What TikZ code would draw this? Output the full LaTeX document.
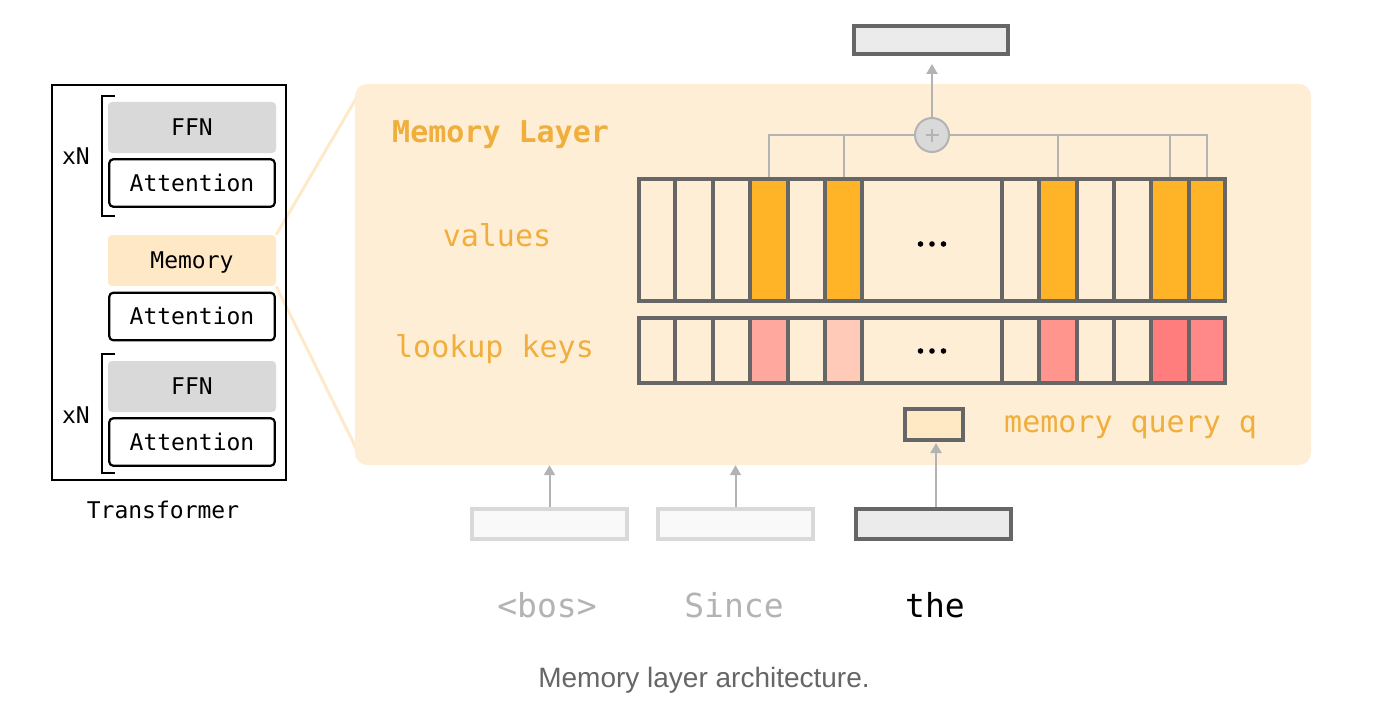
\documentclass[tikz,border=0pt]{standalone}
\usepackage{fontspec}
\setmainfont{Liberation Sans}
\newfontfamily\monofont{DejaVu Sans Mono}
\usetikzlibrary{arrows.meta,backgrounds}
\definecolor{panelbg}{HTML}{FFEED6}
\definecolor{membg}{HTML}{FFE8C6}
\definecolor{zoomline}{HTML}{FEEACA}
\definecolor{ffngray}{HTML}{D9D9D9}
\definecolor{orangetxt}{HTML}{F0AE3C}
\definecolor{vorange}{HTML}{FFB326}
\definecolor{kA}{HTML}{FFA89E}
\definecolor{kB}{HTML}{FFCAB8}
\definecolor{kC}{HTML}{FF958D}
\definecolor{kD}{HTML}{FF7D7D}
\definecolor{kE}{HTML}{FF8888}
\definecolor{cellline}{HTML}{666666}
\definecolor{busgray}{HTML}{B3B3B3}
\definecolor{plusfill}{HTML}{D9D9D9}
\definecolor{outfill}{HTML}{EBEBEB}
\definecolor{tokfill}{HTML}{F9F9F9}
\definecolor{tokline}{HTML}{D9D9D9}
\definecolor{qfill}{HTML}{FFE9C4}
\definecolor{captxt}{HTML}{666666}
\tikzset{
  leftfont/.style={font=\monofont\fontsize{23}{27}\selectfont, text height=16.8pt, text depth=0pt},
  attbox/.style={leftfont, draw=black, line width=2.2pt, rounded corners=4pt, fill=white,
    minimum width=165.5pt, minimum height=47.5pt, inner sep=0pt},
  ffnbox/.style={leftfont, fill=ffngray, rounded corners=4pt,
    minimum width=168pt, minimum height=51pt, inner sep=0pt},
  membox/.style={leftfont, fill=membg, rounded corners=4pt,
    minimum width=168pt, minimum height=51pt, inner sep=0pt},
  brack/.style={draw=black, line width=2pt},
  lbl/.style={font=\monofont\fontsize{30}{34}\selectfont, text=orangetxt, inner sep=0pt,
    text height=21.9pt, text depth=0pt},
  cell/.style={draw=cellline, line width=4pt, inner sep=0pt, outer sep=0pt},
  bus/.style={draw=busgray, line width=2pt},
  arr/.style={draw=busgray, line width=2pt, -{Triangle[length=10pt,width=11pt]}},
  tokbox/.style={line width=4pt, minimum width=155pt, minimum height=30pt, inner sep=0pt},
  toktxt/.style={font=\monofont\fontsize{33}{38}\selectfont, inner sep=0pt, text height=24pt, text depth=0pt},
}
\begin{document}
\begin{tikzpicture}[x=1pt,y=-1pt]
\useasboundingbox (0,0) rectangle (1377,717);

% ---------- left: Transformer ----------
\node[draw=black, line width=2.5pt, minimum width=234pt, minimum height=395pt, inner sep=0pt] (tbox) at (169,282.5) {};
\node[ffnbox] (ffn1) at (192,127.5) {FFN};
\node[attbox] (att1) at (192,183) {Attention};
\node[membox] (mem) at (192,260.5) {Memory};
\node[attbox] (att2) at (192,316.5) {Attention};
\node[ffnbox] (ffn2) at (192,386.5) {FFN};
\node[attbox] (att3) at (192,442) {Attention};
\draw[brack] (115,96) -- (102,96) -- (102,216) -- (115,216);
\draw[brack] (115,354) -- (102,354) -- (102,473) -- (115,473);
\node[leftfont, inner sep=0pt] (xn1) at (76,156.5) {xN};
\node[leftfont, inner sep=0pt] (xn2) at (76,415) {xN};
\node[leftfont, inner sep=0pt] (tlabel) at (163,510) {Transformer};

% ---------- zoom lines ----------
\coordinate (z1) at (357,97);
\coordinate (z2) at (357,450);
\begin{scope}[on background layer]
\draw[zoomline, line width=3pt] (mem.north east) -- (z1);
\draw[zoomline, line width=3pt] (mem.south east) -- (z2);
\end{scope}

% ---------- memory layer panel ----------
\node[fill=panelbg, rounded corners=12pt, minimum width=956pt, minimum height=381pt, inner sep=0pt] (panel) at (833,274.5) {};
\node[lbl, font=\monofont\bfseries\fontsize{30}{34}\selectfont, anchor=west] (mltitle) at (392,131.3) {Memory Layer};
\node[lbl] (vallbl) at (497,235.7) {values};
\node[lbl] (keylbl) at (494.5,346.3) {lookup keys};
\node[lbl, anchor=west] (qlbl) at (1004,422) {memory query q};

% output box and plus
\node[draw=cellline, fill=outfill, line width=4pt, minimum width=154pt, minimum height=28pt, inner sep=0pt] (out) at (931,40) {};
\node[circle, draw=busgray, fill=plusfill, line width=2pt, minimum size=34pt, inner sep=0pt,
  path picture={
    \draw[busgray, line width=1.6pt] ([xshift=-6.5pt]path picture bounding box.center) -- ([xshift=6.5pt]path picture bounding box.center);
    \draw[busgray, line width=1.6pt] ([yshift=-6.5pt]path picture bounding box.center) -- ([yshift=6.5pt]path picture bounding box.center);
  }] (plus) at (932,135) {};
\draw[arr, shorten >=8pt] (plus.north) -- (plus.north |- out.south);

% values row
\foreach \i/\a/\b/\c in {1/639/675/panelbg, 2/675/713/panelbg, 3/713/750/panelbg, 4/750/788/vorange,
  5/788/825/panelbg, 6/825/862/vorange, 7/862/1002/panelbg, 8/1002/1039/panelbg, 9/1039/1077/vorange,
  10/1077/1114/panelbg, 11/1114/1151/panelbg, 12/1151/1189/vorange, 13/1189/1225/vorange}
  \node[cell, fill=\c, minimum width={\b-\a}, minimum height=122pt] (v\i) at ({(\a+\b)/2},240) {};
% keys row
\foreach \i/\a/\b/\c in {1/639/675/panelbg, 2/675/713/panelbg, 3/713/750/panelbg, 4/750/788/kA,
  5/788/825/panelbg, 6/825/862/kB, 7/862/1002/panelbg, 8/1002/1039/panelbg, 9/1039/1077/kC,
  10/1077/1114/panelbg, 11/1114/1151/panelbg, 12/1151/1189/kD, 13/1189/1225/kE}
  \node[cell, fill=\c, minimum width={\b-\a}, minimum height=65pt] (k\i) at ({(\a+\b)/2},350.5) {};
% ellipses
\foreach \dx in {-11.5,0,11.5} {
  \fill[black] ([xshift=\dx pt, yshift=-4pt]v7.center) circle (2.8pt);
  \fill[black] ([xshift=\dx pt, yshift=-0.5pt]k7.center) circle (2.8pt);
}

% bus to plus
\draw[bus, shorten <=2pt] (v4.north) |- (plus.west);
\draw[bus, shorten <=2pt] (v6.north) -- (v6.north |- plus.center);
\draw[bus, shorten <=2pt] (v13.north) |- (plus.east);
\draw[bus, shorten <=2pt] (v9.north) -- (v9.north |- plus.center);
\draw[bus, shorten <=2pt] (v12.north) -- (v12.north |- plus.center);

% query
\node[draw=cellline, fill=qfill, line width=4pt, minimum width=58pt, minimum height=31pt, inner sep=0pt] (q) at (934,424.5) {};

% tokens
\node[tokbox, draw=tokline, fill=tokfill] (bos) at (549.5,524) {};
\node[tokbox, draw=tokline, fill=tokfill] (since) at (735.5,524) {};
\node[tokbox, draw=cellline, fill=outfill] (the) at (933,524) {};
\draw[arr] (bos.north) -- (bos.north |- panel.south);
\draw[arr] (since.north) -- (since.north |- panel.south);
\draw[arr, shorten >=1pt] ([xshift=3pt]the.north) -- ([xshift=3pt]the.north |- q.south);

\node[toktxt, text=busgray] (bostxt) at (547,605) {<bos>};
\node[toktxt, text=busgray] (sincetxt) at (734,605) {Since};
\node[toktxt, text=black] (thetxt) at (935,605) {the};

% caption
\node[font=\fontsize{28}{32}\selectfont, text=captxt, inner sep=0pt, text height=20pt, text depth=0pt] (cap) at (704,677) {Memory layer architecture.};
\end{tikzpicture}
\end{document}
